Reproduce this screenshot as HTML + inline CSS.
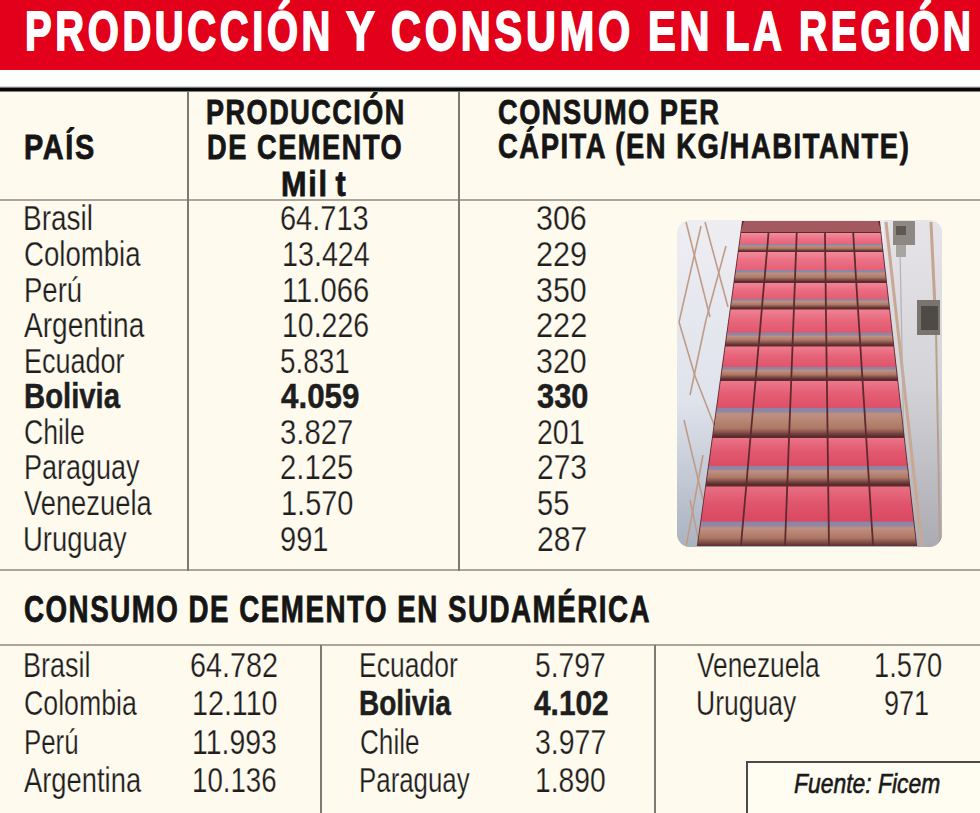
<!DOCTYPE html>
<html><head><meta charset="utf-8"><style>
html,body{margin:0;padding:0}
body{width:980px;height:813px;overflow:hidden;position:relative;background:#fffaee;font-family:"Liberation Sans",sans-serif}
.t{position:absolute;white-space:nowrap;transform-origin:0 0}
.vl{position:absolute;width:2px;background:#7d7a73}
.hl{position:absolute;left:0;width:980px;height:2px;background:#aaa69b}
</style></head><body>

<div style="position:absolute;left:0;top:0;width:980px;height:70px;background:#E2001A"></div>
<div style="position:absolute;left:0;top:70px;width:980px;height:17px;background:#fdfefe"></div>
<div style="position:absolute;left:0;top:86px;width:980px;height:1px;background:#d6d7d5"></div>
<div style="position:absolute;left:0;top:87px;width:980px;height:1px;background:#7a7a78"></div>
<div style="position:absolute;left:0;top:88px;width:980px;height:3px;background:#080808"></div>
<div style="position:absolute;left:0;top:91px;width:980px;height:1px;background:#7e7c76"></div>
<div class="hl" style="top:199px"></div>
<div class="hl" style="top:569px"></div>
<div class="hl" style="top:644px"></div>
<div class="vl" style="left:187px;top:91px;height:480px"></div>
<div class="vl" style="left:458px;top:91px;height:480px"></div>
<div class="vl" style="left:320px;top:645px;height:170px"></div>
<div class="vl" style="left:654px;top:645px;height:170px"></div>
<div style="position:absolute;left:746px;top:761px;width:240px;height:60px;border:2px solid #4a4a4a;box-sizing:border-box;background:#fffcf2"></div>

<svg style="position:absolute;left:0;top:0" width="980" height="813"><defs><clipPath id="cp"><rect x="677" y="220" width="265" height="327" rx="13"/></clipPath><linearGradient id="bgl" x1="0" y1="0" x2="0" y2="1"><stop offset="0" stop-color="#eeedf2"/><stop offset="0.55" stop-color="#dfe3ec"/><stop offset="1" stop-color="#aab2c0"/></linearGradient><linearGradient id="bgr" x1="0" y1="0" x2="0" y2="1"><stop offset="0" stop-color="#e6e4e8"/><stop offset="0.5" stop-color="#d4d3d8"/><stop offset="1" stop-color="#acabb2"/></linearGradient><linearGradient id="g0" gradientUnits="userSpaceOnUse" x1="0" y1="233" x2="0" y2="251"><stop offset="0" stop-color="#f38ea0"/><stop offset="0.28" stop-color="#ee7488"/><stop offset="0.60" stop-color="#e8647a"/><stop offset="0.62" stop-color="#8a86aa"/><stop offset="0.67" stop-color="#8e86a4"/><stop offset="0.72" stop-color="#c09080"/><stop offset="0.86" stop-color="#ae7866"/><stop offset="1" stop-color="#5e2e30"/></linearGradient><linearGradient id="g1" gradientUnits="userSpaceOnUse" x1="0" y1="252" x2="0" y2="281.5"><stop offset="0" stop-color="#f28a9c"/><stop offset="0.28" stop-color="#ec7084"/><stop offset="0.60" stop-color="#e66076"/><stop offset="0.62" stop-color="#8a86aa"/><stop offset="0.67" stop-color="#8e86a4"/><stop offset="0.72" stop-color="#c09080"/><stop offset="0.86" stop-color="#ae7866"/><stop offset="1" stop-color="#5e2e30"/></linearGradient><linearGradient id="g2" gradientUnits="userSpaceOnUse" x1="0" y1="283" x2="0" y2="308"><stop offset="0" stop-color="#f08698"/><stop offset="0.29" stop-color="#ea6c80"/><stop offset="0.62" stop-color="#e45c72"/><stop offset="0.64" stop-color="#8a86aa"/><stop offset="0.69" stop-color="#8e86a4"/><stop offset="0.74" stop-color="#c09080"/><stop offset="0.86" stop-color="#ae7866"/><stop offset="1" stop-color="#5e2e30"/></linearGradient><linearGradient id="g3" gradientUnits="userSpaceOnUse" x1="0" y1="309.5" x2="0" y2="345"><stop offset="0" stop-color="#ef8294"/><stop offset="0.30" stop-color="#e8687c"/><stop offset="0.64" stop-color="#e2586e"/><stop offset="0.66" stop-color="#8a86aa"/><stop offset="0.71" stop-color="#8e86a4"/><stop offset="0.76" stop-color="#c09080"/><stop offset="0.86" stop-color="#ae7866"/><stop offset="1" stop-color="#5e2e30"/></linearGradient><linearGradient id="g4" gradientUnits="userSpaceOnUse" x1="0" y1="346.5" x2="0" y2="379"><stop offset="0" stop-color="#ee7e90"/><stop offset="0.29" stop-color="#e66478"/><stop offset="0.62" stop-color="#e0546a"/><stop offset="0.64" stop-color="#8a86aa"/><stop offset="0.69" stop-color="#8e86a4"/><stop offset="0.74" stop-color="#c09080"/><stop offset="0.86" stop-color="#ae7866"/><stop offset="1" stop-color="#5e2e30"/></linearGradient><linearGradient id="g5" gradientUnits="userSpaceOnUse" x1="0" y1="381" x2="0" y2="436"><stop offset="0" stop-color="#ec788c"/><stop offset="0.23" stop-color="#e45e74"/><stop offset="0.48" stop-color="#de5068"/><stop offset="0.50" stop-color="#8a86aa"/><stop offset="0.55" stop-color="#8e86a4"/><stop offset="0.60" stop-color="#c09080"/><stop offset="0.86" stop-color="#ae7866"/><stop offset="1" stop-color="#5e2e30"/></linearGradient><linearGradient id="g6" gradientUnits="userSpaceOnUse" x1="0" y1="438" x2="0" y2="484"><stop offset="0" stop-color="#ea7488"/><stop offset="0.28" stop-color="#e25a70"/><stop offset="0.60" stop-color="#dc4c64"/><stop offset="0.62" stop-color="#8a86aa"/><stop offset="0.67" stop-color="#8e86a4"/><stop offset="0.72" stop-color="#c09080"/><stop offset="0.86" stop-color="#ae7866"/><stop offset="1" stop-color="#5e2e30"/></linearGradient><linearGradient id="g7" gradientUnits="userSpaceOnUse" x1="0" y1="486.5" x2="0" y2="546"><stop offset="0" stop-color="#e87084"/><stop offset="0.27" stop-color="#e0566c"/><stop offset="0.58" stop-color="#da4862"/><stop offset="0.60" stop-color="#8a86aa"/><stop offset="0.65" stop-color="#8e86a4"/><stop offset="0.70" stop-color="#c09080"/><stop offset="0.86" stop-color="#ae7866"/><stop offset="1" stop-color="#5e2e30"/></linearGradient></defs><g clip-path="url(#cp)"><rect x="677" y="220" width="265" height="327" fill="url(#bgl)"/><rect x="884" y="220" width="58" height="327" fill="url(#bgr)"/><line x1="686" y1="222" x2="710" y2="317" stroke="#bf9c88" stroke-width="1.6"/><line x1="705" y1="222" x2="728" y2="307" stroke="#bf9c88" stroke-width="1.6"/><line x1="701" y1="226" x2="679" y2="322" stroke="#bf9c88" stroke-width="1.6"/><line x1="679" y1="322" x2="695" y2="376" stroke="#bf9c88" stroke-width="1.6"/><line x1="726" y1="246" x2="706" y2="320" stroke="#bf9c88" stroke-width="1.6"/><line x1="706" y1="320" x2="690" y2="395" stroke="#bf9c88" stroke-width="1.6"/><line x1="695" y1="376" x2="720" y2="440" stroke="#bf9c88" stroke-width="1.6"/><line x1="684" y1="420" x2="703" y2="500" stroke="#bf9c88" stroke-width="1.6"/><line x1="703" y1="455" x2="686" y2="547" stroke="#bf9c88" stroke-width="1.6"/><line x1="690" y1="500" x2="700" y2="547" stroke="#bf9c88" stroke-width="1.6"/><line x1="886" y1="222" x2="922" y2="547" stroke="#c8a892" stroke-width="3"/><line x1="931" y1="222" x2="936" y2="330" stroke="#c4a590" stroke-width="3"/><line x1="936" y1="330" x2="940" y2="547" stroke="#b8a08e" stroke-width="2"/><line x1="900" y1="250" x2="906" y2="547" stroke="#b4b0b4" stroke-width="1.2"/><rect x="893" y="221" width="22" height="24" fill="#8e8882"/><rect x="896" y="226" width="10" height="9" fill="#5e5852"/><rect x="896" y="245" width="10" height="12" fill="#a8a4a0"/><rect x="917" y="300" width="23" height="35" fill="#7a746e"/><rect x="921" y="306" width="17" height="24" fill="#4e4a46"/><polygon points="742.0,221 880.0,221 917.1,546 696.9,546" fill="#5e2a2e"/><polygon points="744.0,221 878.0,221 881.3,232 740.5,232" fill="#a45860"/><polygon points="741.2,233 767.6,233 766.1,251 738.7,251" fill="url(#g0)"/><polygon points="769.4,233 795.8,233 795.2,251 767.9,251" fill="url(#g0)"/><polygon points="797.6,233 824.1,233 824.3,251 797.0,251" fill="url(#g0)"/><polygon points="825.9,233 852.3,233 853.4,251 826.1,251" fill="url(#g0)"/><polygon points="854.1,233 880.5,233 882.5,251 855.2,251" fill="url(#g0)"/><polygon points="738.6,252 766.0,252 763.4,281.5 734.5,281.5" fill="url(#g1)"/><polygon points="767.8,252 795.1,252 794.0,281.5 765.2,281.5" fill="url(#g1)"/><polygon points="796.9,252 824.3,252 824.7,281.5 795.8,281.5" fill="url(#g1)"/><polygon points="826.1,252 853.5,252 855.3,281.5 826.5,281.5" fill="url(#g1)"/><polygon points="855.3,252 882.6,252 886.0,281.5 857.1,281.5" fill="url(#g1)"/><polygon points="734.3,283 763.2,283 761.0,308 730.8,308" fill="url(#g2)"/><polygon points="765.0,283 794.0,283 793.0,308 762.8,308" fill="url(#g2)"/><polygon points="795.8,283 824.7,283 825.0,308 794.8,308" fill="url(#g2)"/><polygon points="826.5,283 855.4,283 857.0,308 826.8,308" fill="url(#g2)"/><polygon points="857.2,283 886.2,283 889.0,308 858.8,308" fill="url(#g2)"/><polygon points="730.6,309.5 760.9,309.5 757.8,345 725.7,345" fill="url(#g3)"/><polygon points="762.7,309.5 793.0,309.5 791.6,345 759.6,345" fill="url(#g3)"/><polygon points="794.8,309.5 825.0,309.5 825.5,345 793.4,345" fill="url(#g3)"/><polygon points="826.8,309.5 857.1,309.5 859.4,345 827.3,345" fill="url(#g3)"/><polygon points="858.9,309.5 889.2,309.5 893.3,345 861.2,345" fill="url(#g3)"/><polygon points="725.5,346.5 757.6,346.5 754.8,379 721.0,379" fill="url(#g4)"/><polygon points="759.4,346.5 791.6,346.5 790.4,379 756.6,379" fill="url(#g4)"/><polygon points="793.4,346.5 825.5,346.5 825.9,379 792.2,379" fill="url(#g4)"/><polygon points="827.3,346.5 859.5,346.5 861.5,379 827.7,379" fill="url(#g4)"/><polygon points="861.3,346.5 893.4,346.5 897.1,379 863.3,379" fill="url(#g4)"/><polygon points="720.7,381 754.6,381 749.7,436 713.0,436" fill="url(#g5)"/><polygon points="756.4,381 790.3,381 788.2,436 751.5,436" fill="url(#g5)"/><polygon points="792.1,381 826.0,381 826.7,436 790.0,436" fill="url(#g5)"/><polygon points="827.8,381 861.7,381 865.2,436 828.5,436" fill="url(#g5)"/><polygon points="863.5,381 897.4,381 903.7,436 867.0,436" fill="url(#g5)"/><polygon points="712.8,438 749.5,438 745.5,484 706.4,484" fill="url(#g6)"/><polygon points="751.3,438 788.1,438 786.4,484 747.3,484" fill="url(#g6)"/><polygon points="789.9,438 826.7,438 827.3,484 788.2,484" fill="url(#g6)"/><polygon points="828.5,438 865.3,438 868.2,484 829.1,484" fill="url(#g6)"/><polygon points="867.1,438 903.9,438 909.1,484 870.0,484" fill="url(#g6)"/><polygon points="706.0,486.5 745.3,486.5 740.0,546 697.8,546" fill="url(#g7)"/><polygon points="747.1,486.5 786.3,486.5 784.1,546 741.8,546" fill="url(#g7)"/><polygon points="788.1,486.5 827.3,486.5 828.1,546 785.9,546" fill="url(#g7)"/><polygon points="829.1,486.5 868.4,486.5 872.2,546 829.9,546" fill="url(#g7)"/><polygon points="870.2,486.5 909.4,486.5 916.2,546 874.0,546" fill="url(#g7)"/></g></svg>
<div class="t" style="left:25.06px;top:4.00px;font-size:55.00px;line-height:55.00px;font-weight:bold;font-style:normal;color:#fff;transform:scaleX(0.7257);letter-spacing:5px;-webkit-text-stroke:1.8px #fff;">PRODUCCIÓN</div>
<div class="t" style="left:346.14px;top:4.00px;font-size:55.00px;line-height:55.00px;font-weight:bold;font-style:normal;color:#fff;transform:scaleX(0.7846);letter-spacing:5px;-webkit-text-stroke:1.8px #fff;">Y</div>
<div class="t" style="left:390.62px;top:4.00px;font-size:55.00px;line-height:55.00px;font-weight:bold;font-style:normal;color:#fff;transform:scaleX(0.7542);letter-spacing:5px;-webkit-text-stroke:1.8px #fff;">CONSUMO</div>
<div class="t" style="left:648.18px;top:4.00px;font-size:55.00px;line-height:55.00px;font-weight:bold;font-style:normal;color:#fff;transform:scaleX(0.7557);letter-spacing:5px;-webkit-text-stroke:1.8px #fff;">EN</div>
<div class="t" style="left:725.25px;top:4.00px;font-size:55.00px;line-height:55.00px;font-weight:bold;font-style:normal;color:#fff;transform:scaleX(0.7280);letter-spacing:5px;-webkit-text-stroke:1.8px #fff;">LA</div>
<div class="t" style="left:798.70px;top:4.00px;font-size:55.00px;line-height:55.00px;font-weight:bold;font-style:normal;color:#fff;transform:scaleX(0.7108);letter-spacing:5px;-webkit-text-stroke:1.8px #fff;">REGIÓN</div>
<div class="t" style="left:24.15px;top:129.00px;font-size:35.00px;line-height:35.00px;font-weight:bold;font-style:normal;color:#151515;transform:scaleX(0.8240);letter-spacing:2px;-webkit-text-stroke:0.8px #151515;">PAÍS</div>
<div class="t" style="left:205.85px;top:94.00px;font-size:35.30px;line-height:35.30px;font-weight:bold;font-style:normal;color:#151515;transform:scaleX(0.7653);letter-spacing:2px;-webkit-text-stroke:0.8px #151515;">PRODUCCIÓN</div>
<div class="t" style="left:206.54px;top:129.00px;font-size:35.30px;line-height:35.30px;font-weight:bold;font-style:normal;color:#151515;transform:scaleX(0.7706);letter-spacing:2px;-webkit-text-stroke:0.8px #151515;">DE CEMENTO</div>
<div class="t" style="left:280.96px;top:166.00px;font-size:35.30px;line-height:35.30px;font-weight:bold;font-style:normal;color:#151515;transform:scaleX(0.8671);word-spacing:-4px;letter-spacing:2px;-webkit-text-stroke:0.8px #151515;">Mil t</div>
<div class="t" style="left:498.22px;top:94.00px;font-size:35.30px;line-height:35.30px;font-weight:bold;font-style:normal;color:#151515;transform:scaleX(0.7702);letter-spacing:2px;-webkit-text-stroke:0.8px #151515;">CONSUMO PER</div>
<div class="t" style="left:498.22px;top:128.00px;font-size:35.30px;line-height:35.30px;font-weight:bold;font-style:normal;color:#151515;transform:scaleX(0.7755);letter-spacing:2px;-webkit-text-stroke:0.8px #151515;">CÁPITA (EN KG/HABITANTE)</div>
<div class="t" style="left:23.26px;top:201.00px;font-size:35.50px;line-height:35.50px;font-weight:normal;font-style:normal;color:#1e1e1e;transform:scaleX(0.7871);-webkit-text-stroke:0.25px #fffaee;">Brasil</div>
<div class="t" style="left:280.05px;top:201.00px;font-size:35.50px;line-height:35.50px;font-weight:normal;font-style:normal;color:#1e1e1e;transform:scaleX(0.8161);-webkit-text-stroke:0.25px #fffaee;">64.713</div>
<div class="t" style="left:536.08px;top:201.00px;font-size:35.50px;line-height:35.50px;font-weight:normal;font-style:normal;color:#1e1e1e;transform:scaleX(0.8576);-webkit-text-stroke:0.25px #fffaee;">306</div>
<div class="t" style="left:24.12px;top:237.00px;font-size:35.50px;line-height:35.50px;font-weight:normal;font-style:normal;color:#1e1e1e;transform:scaleX(0.7773);-webkit-text-stroke:0.25px #fffaee;">Colombia</div>
<div class="t" style="left:281.55px;top:237.00px;font-size:35.50px;line-height:35.50px;font-weight:normal;font-style:normal;color:#1e1e1e;transform:scaleX(0.8084);-webkit-text-stroke:0.25px #fffaee;">13.424</div>
<div class="t" style="left:535.77px;top:237.00px;font-size:35.50px;line-height:35.50px;font-weight:normal;font-style:normal;color:#1e1e1e;transform:scaleX(0.8630);-webkit-text-stroke:0.25px #fffaee;">229</div>
<div class="t" style="left:24.00px;top:273.00px;font-size:35.50px;line-height:35.50px;font-weight:normal;font-style:normal;color:#1e1e1e;transform:scaleX(0.7755);-webkit-text-stroke:0.25px #fffaee;">Perú</div>
<div class="t" style="left:281.51px;top:273.00px;font-size:35.50px;line-height:35.50px;font-weight:normal;font-style:normal;color:#1e1e1e;transform:scaleX(0.8229);-webkit-text-stroke:0.25px #fffaee;">11.066</div>
<div class="t" style="left:536.09px;top:273.00px;font-size:35.50px;line-height:35.50px;font-weight:normal;font-style:normal;color:#1e1e1e;transform:scaleX(0.8548);-webkit-text-stroke:0.25px #fffaee;">350</div>
<div class="t" style="left:24.26px;top:308.00px;font-size:35.50px;line-height:35.50px;font-weight:normal;font-style:normal;color:#1e1e1e;transform:scaleX(0.7914);-webkit-text-stroke:0.25px #fffaee;">Argentina</div>
<div class="t" style="left:281.56px;top:308.00px;font-size:35.50px;line-height:35.50px;font-weight:normal;font-style:normal;color:#1e1e1e;transform:scaleX(0.8020);-webkit-text-stroke:0.25px #fffaee;">10.226</div>
<div class="t" style="left:535.76px;top:308.00px;font-size:35.50px;line-height:35.50px;font-weight:normal;font-style:normal;color:#1e1e1e;transform:scaleX(0.8658);-webkit-text-stroke:0.25px #fffaee;">222</div>
<div class="t" style="left:24.04px;top:344.00px;font-size:35.50px;line-height:35.50px;font-weight:normal;font-style:normal;color:#1e1e1e;transform:scaleX(0.7608);-webkit-text-stroke:0.25px #fffaee;">Ecuador</div>
<div class="t" style="left:280.39px;top:344.00px;font-size:35.50px;line-height:35.50px;font-weight:normal;font-style:normal;color:#1e1e1e;transform:scaleX(0.7843);-webkit-text-stroke:0.25px #fffaee;">5.831</div>
<div class="t" style="left:536.09px;top:344.00px;font-size:35.50px;line-height:35.50px;font-weight:normal;font-style:normal;color:#1e1e1e;transform:scaleX(0.8548);-webkit-text-stroke:0.25px #fffaee;">320</div>
<div class="t" style="left:23.80px;top:379.00px;font-size:35.50px;line-height:35.50px;font-weight:bold;font-style:normal;color:#1e1e1e;transform:scaleX(0.8248);-webkit-text-stroke:0.5px #1e1e1e;">Bolivia</div>
<div class="t" style="left:281.05px;top:379.00px;font-size:35.50px;line-height:35.50px;font-weight:bold;font-style:normal;color:#1e1e1e;transform:scaleX(0.8825);-webkit-text-stroke:0.5px #1e1e1e;">4.059</div>
<div class="t" style="left:537.45px;top:379.00px;font-size:35.50px;line-height:35.50px;font-weight:bold;font-style:normal;color:#1e1e1e;transform:scaleX(0.8674);-webkit-text-stroke:0.5px #1e1e1e;">330</div>
<div class="t" style="left:24.17px;top:415.00px;font-size:35.50px;line-height:35.50px;font-weight:normal;font-style:normal;color:#1e1e1e;transform:scaleX(0.7503);-webkit-text-stroke:0.25px #fffaee;">Chile</div>
<div class="t" style="left:280.13px;top:415.00px;font-size:35.50px;line-height:35.50px;font-weight:normal;font-style:normal;color:#1e1e1e;transform:scaleX(0.8240);-webkit-text-stroke:0.25px #fffaee;">3.827</div>
<div class="t" style="left:536.58px;top:415.00px;font-size:35.50px;line-height:35.50px;font-weight:normal;font-style:normal;color:#1e1e1e;transform:scaleX(0.8028);-webkit-text-stroke:0.25px #fffaee;">201</div>
<div class="t" style="left:24.04px;top:450.00px;font-size:35.50px;line-height:35.50px;font-weight:normal;font-style:normal;color:#1e1e1e;transform:scaleX(0.7608);-webkit-text-stroke:0.25px #fffaee;">Paraguay</div>
<div class="t" style="left:279.84px;top:450.00px;font-size:35.50px;line-height:35.50px;font-weight:normal;font-style:normal;color:#1e1e1e;transform:scaleX(0.8240);-webkit-text-stroke:0.25px #fffaee;">2.125</div>
<div class="t" style="left:536.50px;top:450.00px;font-size:35.50px;line-height:35.50px;font-weight:normal;font-style:normal;color:#1e1e1e;transform:scaleX(0.8451);-webkit-text-stroke:0.25px #fffaee;">273</div>
<div class="t" style="left:24.36px;top:486.00px;font-size:35.50px;line-height:35.50px;font-weight:normal;font-style:normal;color:#1e1e1e;transform:scaleX(0.7699);-webkit-text-stroke:0.25px #fffaee;">Venezuela</div>
<div class="t" style="left:280.63px;top:486.00px;font-size:35.50px;line-height:35.50px;font-weight:normal;font-style:normal;color:#1e1e1e;transform:scaleX(0.8150);-webkit-text-stroke:0.25px #fffaee;">1.570</div>
<div class="t" style="left:536.84px;top:486.00px;font-size:35.50px;line-height:35.50px;font-weight:normal;font-style:normal;color:#1e1e1e;transform:scaleX(0.8177);-webkit-text-stroke:0.25px #fffaee;">55</div>
<div class="t" style="left:23.44px;top:522.00px;font-size:35.50px;line-height:35.50px;font-weight:normal;font-style:normal;color:#1e1e1e;transform:scaleX(0.7727);-webkit-text-stroke:0.25px #fffaee;">Uruguay</div>
<div class="t" style="left:279.99px;top:522.00px;font-size:35.50px;line-height:35.50px;font-weight:normal;font-style:normal;color:#1e1e1e;transform:scaleX(0.8182);-webkit-text-stroke:0.25px #fffaee;">991</div>
<div class="t" style="left:536.50px;top:522.00px;font-size:35.50px;line-height:35.50px;font-weight:normal;font-style:normal;color:#1e1e1e;transform:scaleX(0.8478);-webkit-text-stroke:0.25px #fffaee;">287</div>
<div class="t" style="left:24.40px;top:592.00px;font-size:36.50px;line-height:36.50px;font-weight:bold;font-style:normal;color:#151515;transform:scaleX(0.7593);letter-spacing:2px;-webkit-text-stroke:0.8px #151515;">CONSUMO DE CEMENTO EN SUDAMÉRICA</div>
<div class="t" style="left:22.94px;top:647.00px;font-size:35.20px;line-height:35.20px;font-weight:normal;font-style:normal;color:#1e1e1e;transform:scaleX(0.7660);-webkit-text-stroke:0.25px #fffaee;">Brasil</div>
<div class="t" style="left:189.96px;top:647.00px;font-size:35.20px;line-height:35.20px;font-weight:normal;font-style:normal;color:#1e1e1e;transform:scaleX(0.8177);-webkit-text-stroke:0.25px #fffaee;">64.782</div>
<div class="t" style="left:23.76px;top:685.00px;font-size:35.20px;line-height:35.20px;font-weight:normal;font-style:normal;color:#1e1e1e;transform:scaleX(0.7587);-webkit-text-stroke:0.25px #fffaee;">Colombia</div>
<div class="t" style="left:192.15px;top:685.00px;font-size:35.20px;line-height:35.20px;font-weight:normal;font-style:normal;color:#1e1e1e;transform:scaleX(0.8147);-webkit-text-stroke:0.25px #fffaee;">12.110</div>
<div class="t" style="left:23.73px;top:724.00px;font-size:35.20px;line-height:35.20px;font-weight:normal;font-style:normal;color:#1e1e1e;transform:scaleX(0.7344);-webkit-text-stroke:0.25px #fffaee;">Perú</div>
<div class="t" style="left:192.17px;top:724.00px;font-size:35.20px;line-height:35.20px;font-weight:normal;font-style:normal;color:#1e1e1e;transform:scaleX(0.8072);-webkit-text-stroke:0.25px #fffaee;">11.993</div>
<div class="t" style="left:24.26px;top:762.00px;font-size:35.20px;line-height:35.20px;font-weight:normal;font-style:normal;color:#1e1e1e;transform:scaleX(0.7775);-webkit-text-stroke:0.25px #fffaee;">Argentina</div>
<div class="t" style="left:192.22px;top:762.00px;font-size:35.20px;line-height:35.20px;font-weight:normal;font-style:normal;color:#1e1e1e;transform:scaleX(0.7866);-webkit-text-stroke:0.25px #fffaee;">10.136</div>
<div class="t" style="left:358.78px;top:647.00px;font-size:35.20px;line-height:35.20px;font-weight:normal;font-style:normal;color:#1e1e1e;transform:scaleX(0.7531);-webkit-text-stroke:0.25px #fffaee;">Ecuador</div>
<div class="t" style="left:535.17px;top:647.00px;font-size:35.20px;line-height:35.20px;font-weight:normal;font-style:normal;color:#1e1e1e;transform:scaleX(0.8016);-webkit-text-stroke:0.25px #fffaee;">5.797</div>
<div class="t" style="left:359.28px;top:685.00px;font-size:35.20px;line-height:35.20px;font-weight:bold;font-style:normal;color:#1e1e1e;transform:scaleX(0.7949);-webkit-text-stroke:0.5px #1e1e1e;">Bolivia</div>
<div class="t" style="left:534.06px;top:685.00px;font-size:35.20px;line-height:35.20px;font-weight:bold;font-style:normal;color:#1e1e1e;transform:scaleX(0.8479);-webkit-text-stroke:0.5px #1e1e1e;">4.102</div>
<div class="t" style="left:359.59px;top:724.00px;font-size:35.20px;line-height:35.20px;font-weight:normal;font-style:normal;color:#1e1e1e;transform:scaleX(0.7424);-webkit-text-stroke:0.25px #fffaee;">Chile</div>
<div class="t" style="left:534.56px;top:724.00px;font-size:35.20px;line-height:35.20px;font-weight:normal;font-style:normal;color:#1e1e1e;transform:scaleX(0.8087);-webkit-text-stroke:0.25px #fffaee;">3.977</div>
<div class="t" style="left:359.43px;top:762.00px;font-size:35.20px;line-height:35.20px;font-weight:normal;font-style:normal;color:#1e1e1e;transform:scaleX(0.7348);-webkit-text-stroke:0.25px #fffaee;">Paraguay</div>
<div class="t" style="left:534.88px;top:762.00px;font-size:35.20px;line-height:35.20px;font-weight:normal;font-style:normal;color:#1e1e1e;transform:scaleX(0.8016);-webkit-text-stroke:0.25px #fffaee;">1.890</div>
<div class="t" style="left:697.27px;top:647.00px;font-size:35.20px;line-height:35.20px;font-weight:normal;font-style:normal;color:#1e1e1e;transform:scaleX(0.7466);-webkit-text-stroke:0.25px #fffaee;">Venezuela</div>
<div class="t" style="left:873.66px;top:647.00px;font-size:35.20px;line-height:35.20px;font-weight:normal;font-style:normal;color:#1e1e1e;transform:scaleX(0.7743);-webkit-text-stroke:0.25px #fffaee;">1.570</div>
<div class="t" style="left:696.01px;top:685.00px;font-size:35.20px;line-height:35.20px;font-weight:normal;font-style:normal;color:#1e1e1e;transform:scaleX(0.7532);-webkit-text-stroke:0.25px #fffaee;">Uruguay</div>
<div class="t" style="left:883.78px;top:685.00px;font-size:35.20px;line-height:35.20px;font-weight:normal;font-style:normal;color:#1e1e1e;transform:scaleX(0.7690);-webkit-text-stroke:0.25px #fffaee;">971</div>
<div class="t" style="left:794.06px;top:770.00px;font-size:27.50px;line-height:27.50px;font-weight:normal;font-style:italic;color:#1a1a1a;transform:scaleX(0.8321);-webkit-text-stroke:0.6px #1a1a1a;">Fuente: Ficem</div>
</body></html>
